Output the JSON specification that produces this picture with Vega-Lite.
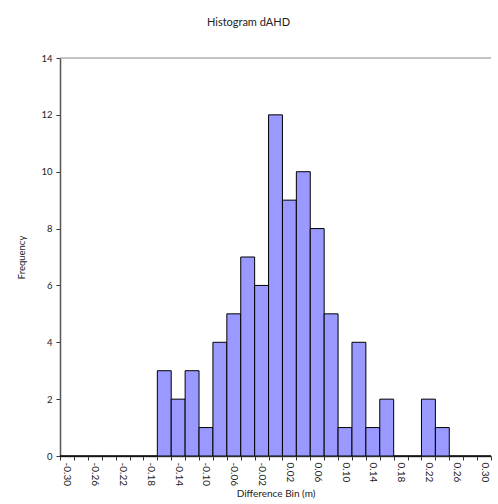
{
  "$schema": "https://vega.github.io/schema/vega-lite/v6.json",
  "autosize": "none",
  "width": 431,
  "height": 398,
  "padding": {"left": 60, "top": 58, "right": 7, "bottom": 48},
  "background": "white",
  "config": {
    "font": "Lato",
    "view": {"stroke": null}
  },
  "title": {
    "text": "Histogram dAHD",
    "fontSize": 11,
    "fontWeight": "normal",
    "color": "#222",
    "anchor": "middle",
    "dx": -27,
    "offset": 25,
    "letterSpacing": 0.6
  },
  "data": {
    "values": [
      {"bin": "-0.30", "count": 0},
      {"bin": "-0.28", "count": 0},
      {"bin": "-0.26", "count": 0},
      {"bin": "-0.24", "count": 0},
      {"bin": "-0.22", "count": 0},
      {"bin": "-0.20", "count": 0},
      {"bin": "-0.18", "count": 0},
      {"bin": "-0.16", "count": 3},
      {"bin": "-0.14", "count": 2},
      {"bin": "-0.12", "count": 3},
      {"bin": "-0.10", "count": 1},
      {"bin": "-0.08", "count": 4},
      {"bin": "-0.06", "count": 5},
      {"bin": "-0.04", "count": 7},
      {"bin": "-0.02", "count": 6},
      {"bin": "0.00", "count": 12},
      {"bin": "0.02", "count": 9},
      {"bin": "0.04", "count": 10},
      {"bin": "0.06", "count": 8},
      {"bin": "0.08", "count": 5},
      {"bin": "0.10", "count": 1},
      {"bin": "0.12", "count": 4},
      {"bin": "0.14", "count": 1},
      {"bin": "0.16", "count": 2},
      {"bin": "0.18", "count": 0},
      {"bin": "0.20", "count": 0},
      {"bin": "0.22", "count": 2},
      {"bin": "0.24", "count": 1},
      {"bin": "0.26", "count": 0},
      {"bin": "0.28", "count": 0},
      {"bin": "0.30", "count": 0}
    ]
  },
  "layer": [
    {
      "mark": {"type": "bar", "fill": "#9999FF", "stroke": "#000", "strokeWidth": 1},
      "encoding": {
        "x": {
          "field": "bin",
          "type": "ordinal",
          "sort": null,
          "scale": {"paddingInner": 0, "paddingOuter": 0},
          "axis": {
            "title": "Difference Bin (m)",
            "titleFontSize": 10,
            "titleFontWeight": "normal",
            "titleColor": "#222",
            "titlePadding": 3,
            "labelAngle": 90,
            "labelFontSize": 10,
            "labelColor": "#222",
            "labelPadding": 2,
            "labelExpr": "(round(toNumber(datum.value)*100)+30) % 4 == 0 ? datum.label : ''",
            "tickBand": "extent",
            "tickSize": 4,
            "tickColor": "#333",
            "domainColor": "#555",
            "domainWidth": 1.5
          }
        },
        "y": {
          "field": "count",
          "type": "quantitative",
          "scale": {"domain": [0, 14], "nice": false},
          "axis": {
            "title": "Frequency",
            "titleFontSize": 9.5,
            "titleFontWeight": "normal",
            "titleColor": "#222",
            "titlePadding": 14,
            "values": [0, 2, 4, 6, 8, 10, 12, 14],
            "labelFontSize": 9.5,
            "labelColor": "#222",
            "labelPadding": 4,
            "tickSize": 4,
            "tickColor": "#333",
            "domainColor": "#555",
            "domainWidth": 1.5,
            "grid": false
          }
        }
      }
    },
    {
      "data": {"values": [{}]},
      "mark": {"type": "rule", "color": "#888", "strokeWidth": 1},
      "encoding": {"y": {"datum": 14}}
    }
  ]
}
